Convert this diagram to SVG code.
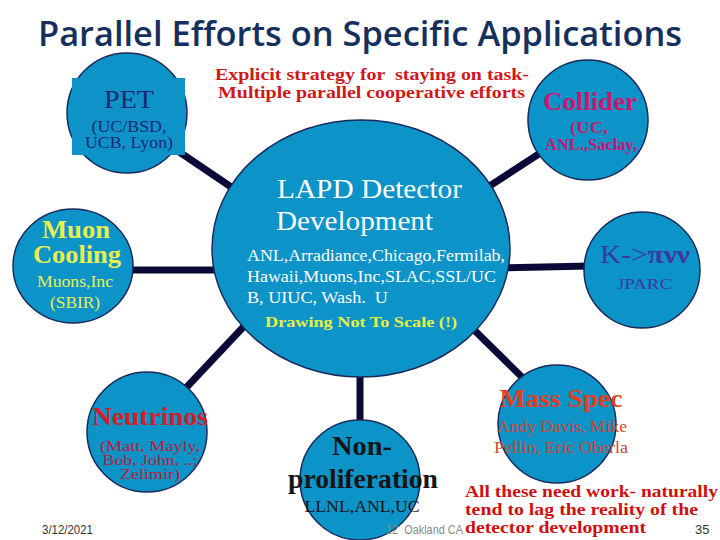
<svg xmlns="http://www.w3.org/2000/svg" width="720" height="540" viewBox="0 0 720 540">
<style>
.node{fill:#0c93c8;stroke:#1a2a5a;stroke-width:1.5}
.conn{stroke:#0a0a38;stroke-width:7;fill:none}
.s{font-family:"Liberation Serif","Times New Roman",serif}
.b{font-weight:bold}
.sans{font-family:"Liberation Sans",Arial,sans-serif}
</style>
<rect width="720" height="540" fill="#ffffff"/>
<text x="38" y="46" font-family="'Open Sans','Noto Sans',sans-serif" font-weight="600" font-size="35" fill="#16305e" textLength="644" lengthAdjust="spacingAndGlyphs">Parallel Efforts on Specific Applications</text>
<g id="header-note" class="s b" fill="#d01818" font-size="16">
<text x="215" y="80" textLength="314" lengthAdjust="spacingAndGlyphs" xml:space="preserve">Explicit strategy for  staying on task-</text>
<text x="218" y="98" textLength="307" lengthAdjust="spacingAndGlyphs">Multiple parallel cooperative efforts</text>
</g>
<g id="connectors">
<line class="conn" x1="172" y1="147" x2="240" y2="193"/>
<line class="conn" x1="548" y1="148" x2="485" y2="189"/>
<line class="conn" x1="128" y1="270" x2="222" y2="270"/>
<line class="conn" x1="500" y1="268" x2="590" y2="266"/>
<line class="conn" x1="184" y1="390" x2="248" y2="322"/>
<line class="conn" x1="360" y1="368" x2="360" y2="428"/>
<line class="conn" x1="466" y1="322" x2="527" y2="382"/>
</g>
<g id="lapd">
<ellipse class="node" cx="361" cy="248.5" rx="149" ry="128.5"/>
<g class="s" fill="#ffffff">
<text x="277" y="198" font-size="28" textLength="185" lengthAdjust="spacingAndGlyphs">LAPD Detector</text>
<text x="276" y="230" font-size="28" textLength="157" lengthAdjust="spacingAndGlyphs">Development</text>
<text x="247" y="261" font-size="17" textLength="258" lengthAdjust="spacingAndGlyphs">ANL,Arradiance,Chicago,Fermilab,</text>
<text x="247" y="282" font-size="17" textLength="249" lengthAdjust="spacingAndGlyphs">Hawaii,Muons,Inc,SLAC,SSL/UC</text>
<text x="247" y="303" font-size="17" textLength="141" lengthAdjust="spacingAndGlyphs" xml:space="preserve">B, UIUC, Wash.  U</text>
</g>
<text x="265" y="327" class="s b" font-size="15" fill="#e8f040" textLength="192" lengthAdjust="spacingAndGlyphs">Drawing Not To Scale (!)</text>
</g>
<g id="pet">
<circle class="node" cx="127" cy="113" r="60"/>
<rect x="72" y="78" width="113" height="77" fill="#0d93c8"/>
<g class="s" fill="#1c2a70" text-anchor="middle">
<text x="129" y="108" font-size="26" textLength="50" lengthAdjust="spacingAndGlyphs">PET</text>
<text x="129" y="132" font-size="16" textLength="75" lengthAdjust="spacingAndGlyphs">(UC/BSD,</text>
<text x="129" y="148" font-size="16" textLength="88" lengthAdjust="spacingAndGlyphs">UCB, Lyon)</text>
</g>
</g>
<g id="collider">
<circle class="node" cx="588" cy="120" r="60"/>
<g class="s b" fill="#c81870" text-anchor="middle">
<text x="590" y="110" font-size="26" textLength="94" lengthAdjust="spacingAndGlyphs">Collider</text>
<text x="589" y="133" font-size="16" textLength="38" lengthAdjust="spacingAndGlyphs">(UC,</text>
<text x="591" y="150" font-size="16" textLength="92" lengthAdjust="spacingAndGlyphs">ANL.,Saclay,</text>
</g>
</g>
<g id="muon">
<ellipse class="node" cx="73" cy="266" rx="60" ry="57"/>
<g class="s" fill="#e8f050" text-anchor="middle">
<text x="76" y="238" font-size="25" font-weight="bold" textLength="68" lengthAdjust="spacingAndGlyphs">Muon</text>
<text x="77" y="263" font-size="25" font-weight="bold" textLength="88" lengthAdjust="spacingAndGlyphs">Cooling</text>
<text x="75" y="287" font-size="16" textLength="76" lengthAdjust="spacingAndGlyphs">Muons,Inc</text>
<text x="75" y="308" font-size="16" textLength="50" lengthAdjust="spacingAndGlyphs">(SBIR)</text>
</g>
</g>
<g id="kpinunu">
<circle class="node" cx="642" cy="270" r="58"/>
<g class="s" fill="#3a3aa0">
<text x="600" y="263" font-size="26" textLength="90" lengthAdjust="spacingAndGlyphs">K-&gt;<tspan font-weight="bold">πνν</tspan></text>
<text x="617" y="289" font-size="15" textLength="55" lengthAdjust="spacingAndGlyphs">JPARC</text>
</g>
</g>
<g id="neutrinos">
<circle class="node" cx="147" cy="432" r="60"/>
<g class="s" text-anchor="middle">
<text x="150" y="425" font-size="26" font-weight="bold" fill="#d0202a" textLength="116" lengthAdjust="spacingAndGlyphs">Neutrinos</text>
<g fill="#b8203c" font-size="14.5">
<text x="150" y="451" textLength="100" lengthAdjust="spacingAndGlyphs">(Matt, Mayly,</text>
<text x="150" y="465" textLength="95" lengthAdjust="spacingAndGlyphs">Bob, John, ..;</text>
<text x="150" y="479" textLength="60" lengthAdjust="spacingAndGlyphs">Zelimir)</text>
</g>
</g>
</g>
<g id="nonproliferation">
<circle class="node" cx="360" cy="480" r="60"/>
<g class="s" fill="#151515" text-anchor="middle">
<text x="362" y="455" font-size="28" font-weight="bold" textLength="60" lengthAdjust="spacingAndGlyphs">Non-</text>
<text x="363" y="488" font-size="28" font-weight="bold" textLength="150" lengthAdjust="spacingAndGlyphs">proliferation</text>
<text x="362" y="512" font-size="16" textLength="115" lengthAdjust="spacingAndGlyphs">LLNL,ANL,UC</text>
</g>
</g>
<text x="386" y="534" class="sans" font-size="13" fill="#8a8a8a" textLength="77" lengthAdjust="spacingAndGlyphs" xml:space="preserve">12  Oakland CA</text>
<g id="massspec">
<circle class="node" cx="557" cy="424" r="59"/>
<g class="s" text-anchor="middle">
<text x="561" y="407" font-size="26" font-weight="bold" fill="#e04020" textLength="123" lengthAdjust="spacingAndGlyphs">Mass Spec</text>
<text x="562" y="432" font-size="16" fill="#c84a30" textLength="130" lengthAdjust="spacingAndGlyphs">Andy Davis, Mike</text>
<text x="561" y="453" font-size="16" fill="#c84a30" textLength="134" lengthAdjust="spacingAndGlyphs">Pellin, Eric Oberla</text>
</g>
</g>
<g id="footer-note" class="s b" fill="#d01010" font-size="17">
<text x="465" y="497" textLength="253" lengthAdjust="spacingAndGlyphs">All these need work- naturally</text>
<text x="465" y="515" textLength="233" lengthAdjust="spacingAndGlyphs">tend to lag the reality of the</text>
<text x="465" y="533" textLength="181" lengthAdjust="spacingAndGlyphs">detector development</text>
</g>
<text x="42" y="534" class="sans" font-size="12" fill="#333333" textLength="51" lengthAdjust="spacingAndGlyphs">3/12/2021</text>
<text x="695" y="534" class="sans" font-size="13" fill="#333333">35</text>
</svg>
